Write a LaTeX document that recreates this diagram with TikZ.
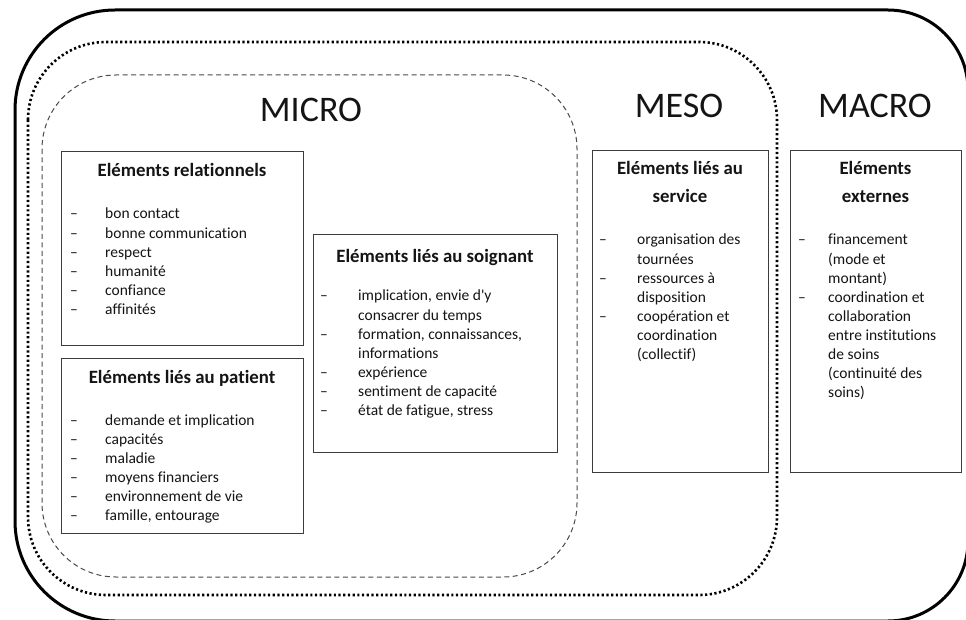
\documentclass[tikz,border=0pt]{standalone}
\usepackage{fontspec}
\setmainfont[Ligatures={TeX,NoCommon}]{Carlito}
\usepackage{array}
\definecolor{inkc}{HTML}{141414}
\definecolor{boxc}{HTML}{3C3C3C}
\definecolor{dashc}{HTML}{4A4A4A}
\newcommand\bodyfont{\fontsize{15.5}{19.1}\selectfont}
\newcommand\headfont{\fontsize{18.8}{25}\selectfont\bfseries}
\newcommand\levelfont{\fontsize{36}{40}\selectfont}
\newcommand\dlist[2]{\begin{tabular}[t]{@{}p{#1}@{}l@{}}#2\end{tabular}}
\begin{document}
\begin{tikzpicture}[x=1pt,y=-1pt,
  outerframe/.style={line width=3pt, black},
  mesoframe/.style={line width=2.6pt, black, dash pattern=on 2.2pt off 2.5pt},
  microframe/.style={line width=1pt, dashc, dash pattern=on 5pt off 3.5pt},
  factorbox/.style={draw=boxc, line width=1.2pt, fill=white, inner sep=0pt, anchor=north west},
  levellabel/.style={font=\levelfont, text=inkc, inner sep=0pt, anchor=base},
  headline/.style={font=\headfont, text=inkc, inner sep=0pt, anchor=base},
  itemlist/.style={font=\bodyfont, text=inkc, inner sep=0pt, anchor=base west},
]
\useasboundingbox (0,0) rectangle (966,620);
\clip (0,0) rectangle (966,620);

% MACRO level: solid outer frame
\draw[outerframe, rounded corners=100pt] (15,400) -- (15,10) -- (490,10)
  [rounded corners=80pt] -- (968,10) -- (968,621) -- (490,621)
  [rounded corners=100pt] -- (15,621) -- cycle;
% MESO level: dotted frame
\draw[mesoframe, rounded corners=78pt] (28,42) rectangle (777,595);
% MICRO level: dashed frame
\draw[microframe, rounded corners=74pt] (42,75) rectangle (577,577);

% level titles
\node[levellabel] (micro) at (311,122) {MICRO};
\node[levellabel] (meso)  at (679,118) {MESO};
\node[levellabel] (macro) at (875,118) {MACRO};

% relational factors
\node[factorbox, minimum width=242pt, minimum height=194pt] (rel) at (61,151) {};
\node[headline] (relh) at (182,177) {Eléments relationnels};
\node[itemlist] (rell) at (70,219) {\dlist{35pt}{%
  – & bon contact\\
  – & bonne communication\\
  – & respect\\
  – & humanité\\
  – & confiance\\
  – & affinités}};

% patient factors
\node[factorbox, minimum width=242pt, minimum height=175pt] (pat) at (61,358) {};
\node[headline] (path) at (182,383) {Eléments liés au patient};
\node[itemlist] (patl) at (70,425) {\dlist{35pt}{%
  – & demande et implication\\
  – & capacités\\
  – & maladie\\
  – & moyens financiers\\
  – & environnement de vie\\
  – & famille, entourage}};

% caregiver factors
\node[factorbox, minimum width=244pt, minimum height=218pt] (soi) at (313,234) {};
\node[headline] (soih) at (435,262) {Eléments liés au soignant};
\node[itemlist] (soil) at (320,301) {\dlist{38pt}{%
  – & implication, envie d\textquotesingle y\\
    & consacrer du temps\\
  – & formation, connaissances,\\
    & informations\\
  – & expérience\\
  – & sentiment de capacité\\
  – & état de fatigue, stress}};

% service factors
\node[factorbox, minimum width=176pt, minimum height=322pt] (ser) at (592,150) {};
\node[headline] (serh1) at (680,175) {Eléments liés au};
\node[headline] (serh2) at (680,203) {service};
\node[itemlist] (serl) at (599,245) {\dlist{38pt}{%
  – & organisation des\\
    & tournées\\
  – & ressources à\\
    & disposition\\
  – & coopération et\\
    & coordination\\
    & (collectif)}};

% external factors
\node[factorbox, minimum width=171pt, minimum height=322pt] (ext) at (790,150) {};
\node[headline] (exth1) at (875.5,175) {Eléments};
\node[headline] (exth2) at (875.5,203) {externes};
\node[itemlist] (extl) at (798,245) {\dlist{30pt}{%
  – & financement\\
    & (mode et\\
    & montant)\\
  – & coordination et\\
    & collaboration\\
    & entre institutions\\
    & de soins\\
    & (continuité des\\
    & soins)}};
\end{tikzpicture}
\end{document}
